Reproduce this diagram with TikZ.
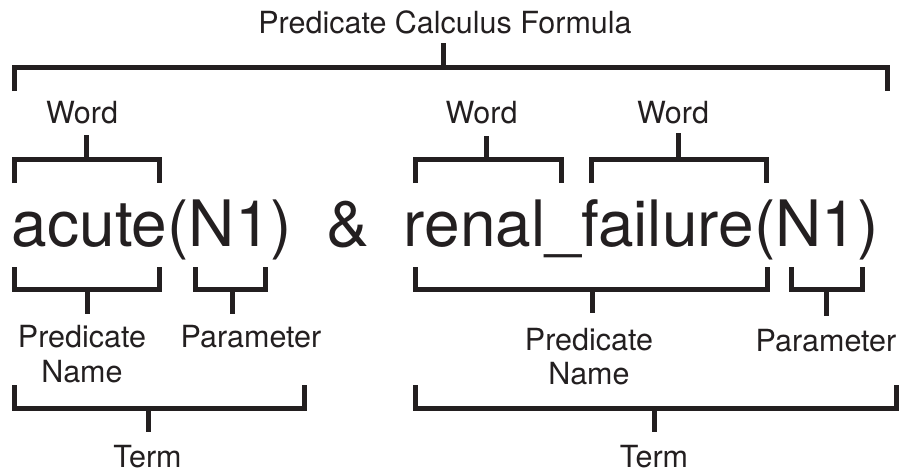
\documentclass[tikz,border=0pt]{standalone}
\usepackage{fontspec}
\setmainfont{TeX Gyre Heros}
\definecolor{ink}{RGB}{35,31,32}

\begin{document}
\begin{tikzpicture}[x=1pt, y=-1pt,
    every bracket/.style={draw=ink, line width=5pt, line join=miter},
    labeltext/.style={text=ink, font=\fontsize{30.5}{34.5}\selectfont, anchor=base, inner sep=0pt, align=center},
    formula/.style={text=ink, font=\fontsize{64}{70}\selectfont, anchor=base west, inner sep=0pt}]

    \useasboundingbox (0,0) rectangle (906,472);

    % the formula
    \foreach \t/\x [count=\i] in {acute(N1)/11.7, \&/326, renal\_failure(N1)/403.6}
      \node [formula] (part-\i) at (\x,246) {\t};

    % brackets: name/left/right/stem/bar/leg end/tip
    \foreach \n/\l/\r/\m/\h/\e/\s in {
        formula/14/887.5/443/67.5/91/43,
        word-1/14/159.5/86/159.5/183/135,
        word-2/415.5/561.5/486.5/159.5/183/136,
        word-3/591.5/766.5/678.5/159.5/183/133,
        name-1/14/159.5/87/289.5/267/314,
        param-1/195.5/265.5/232.5/289.5/267/314,
        name-2/415/767.5/592.5/289.5/267/313,
        param-2/791.5/862.5/826.5/289.5/267/316,
        term-1/14/304.5/148.5/408.5/385/432,
        term-2/415/896.5/654.5/408.5/385/432}
    {
      \coordinate (\n-bar) at (\m,\h);
      \coordinate (\n-tip) at (\m,\s);
      \draw [every bracket] (\l,\e) -- (\l,\h) -- (\r,\h) -- (\r,\e);
      \draw [every bracket] (\n-bar) -- (\n-tip);
    }

    % labels (two-line labels sit on their last baseline)
    \node [labeltext] (formula-label) at (445,33) {Predicate Calculus Formula};

    \foreach \x [count=\i] in {82,481.5,673}
      \node [labeltext] (word-\i-label) at (\x,123) {Word};

    \node [labeltext] (name-1-label) at (82,382) {Predicate\\Name};
    \node [labeltext] (name-2-label) at (589,384.5) {Predicate\\Name};
    \node [labeltext] (param-1-label) at (251,347) {Parameter};
    \node [labeltext] (param-2-label) at (826,351) {Parameter};

    \foreach \x [count=\i] in {147.5,654}
      \node [labeltext] (term-\i-label) at (\x,467) {Term};

\end{tikzpicture}
\end{document}
